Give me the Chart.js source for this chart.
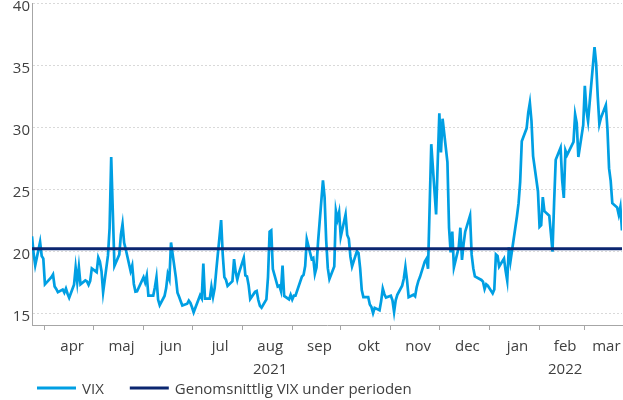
<!DOCTYPE html>
<html>
<head>
<meta charset="utf-8">
<title>VIX</title>
<script src="https://cdn.jsdelivr.net/npm/chart.js@4.4.1/dist/chart.umd.min.js"></script>
<style>
  html, body { margin: 0; padding: 0; background: #ffffff; }
</style>
</head>
<body>
<canvas id="vixChart" width="623" height="400"></canvas>
<script>
// VIX, dagliga stängningsnivåer, 24 mars 2021 - 24 mars 2022
var vixMar21 = [21.20, 19.81, 18.86, 20.74, 19.61, 19.40];
var vixApr21 = [17.33, 17.91, 18.12, 17.16, 16.95, 16.69, 16.91, 16.65, 16.99, 16.57, 16.25,
                17.29, 18.68, 17.50, 18.71, 17.33, 17.64, 17.56, 17.28, 17.61, 18.61];
var vixMay21 = [18.31, 19.48, 19.15, 18.39, 16.69, 19.66, 21.84, 27.59, 23.13, 18.81, 19.72,
                21.34, 22.18, 20.67, 20.15, 18.40, 18.84, 17.36, 16.74, 16.76];
var vixJun21 = [17.90, 17.48, 18.04, 16.42, 16.42, 17.07, 17.89, 16.10, 15.65, 16.39, 17.02,
                18.15, 17.75, 20.70, 17.89, 16.66, 16.32, 15.97, 15.62, 15.76, 16.02, 15.83];
var vixJul21 = [15.48, 15.07, 16.44, 16.20, 19.00, 16.18, 16.17, 17.12, 16.33, 17.01, 18.45,
                22.50, 19.73, 17.91, 17.69, 17.20, 17.58, 19.36, 18.31, 17.70, 18.24];
var vixAug21 = [19.46, 18.04, 17.97, 17.28, 16.15, 16.72, 16.79, 16.06, 15.59, 15.45, 16.12,
                17.91, 21.57, 21.67, 18.56, 17.15, 17.22, 16.79, 18.84, 16.39, 16.11, 16.48];
var vixSep21 = [16.11, 16.41, 16.41, 17.96, 18.09, 18.80, 20.95, 19.37, 19.46, 18.18, 18.69,
                20.81, 25.71, 24.36, 20.87, 18.63, 17.75, 18.76, 23.25, 22.56, 23.14];
var vixOct21 = [21.15, 22.96, 21.30, 21.00, 19.54, 18.77, 20.00, 19.85, 18.64, 16.86, 16.30,
                16.30, 15.70, 15.49, 15.01, 15.43, 15.24, 15.98, 16.98, 16.53, 16.26];
var vixNov21 = [16.41, 16.03, 15.10, 16.04, 16.48, 17.22, 17.78, 18.73, 17.66, 16.29, 16.49,
                16.37, 17.11, 17.59, 17.91, 19.17, 19.38, 18.58, 28.62, 22.96, 27.19];
var vixDec21 = [31.12, 27.95, 30.67, 27.18, 21.89, 19.90, 21.58, 18.69, 20.31, 21.89, 19.29,
                20.57, 21.57, 22.87, 19.70, 18.63, 17.96, 17.68, 17.54, 16.95, 17.33, 17.22];
var vixJan22 = [16.60, 16.91, 19.73, 19.61, 18.76, 19.40, 18.41, 17.62, 20.31, 19.19, 22.79,
                23.85, 25.59, 28.85, 29.90, 31.16, 31.96, 30.49, 27.66, 24.83];
var vixFeb22 = [21.96, 22.09, 24.35, 23.22, 22.86, 21.44, 19.96, 23.91, 27.36, 28.33, 25.70,
                24.29, 28.11, 27.75, 28.81, 31.02, 30.32, 27.59, 30.15];
var vixMar22 = [33.32, 31.35, 30.48, 31.98, 36.45, 35.13, 32.45, 30.23, 30.75, 31.77, 29.83,
                26.67, 25.67, 23.87, 23.53, 22.94, 23.57, 21.67];

// börsstängda helgdagar i USA under perioden
var holidays = ['2021-04-02', '2021-05-31', '2021-07-05', '2021-09-06', '2021-11-25',
                '2021-12-24', '2022-01-17', '2022-02-21'];

var monthNames = ['apr', 'maj', 'jun', 'jul', 'aug', 'sep', 'okt', 'nov', 'dec', 'jan', 'feb', 'mar'];
var yearNames = { aug: '2021', feb: '2022' };
var yTicks = [15, 20, 25, 30, 35, 40];
var seriesNames = ['VIX', 'Genomsnittlig VIX under perioden'];

var vixColor = '#009fe3';
var meanColor = '#0b2670';
var textColor = '#404040';
var axisColor = '#a6a6a6';
var fontFamily = '"Open Sans", "Noto Sans", sans-serif';

// handelsdagar som dagnummer från startdatum
var DAY = 86400000;
var t0 = Date.UTC(2021, 2, 24);
var t1 = Date.UTC(2022, 2, 24);
var tradingDays = [];
for (var t = t0; t <= t1; t += DAY) {
  var d = new Date(t);
  var wd = d.getUTCDay();
  if (wd === 0 || wd === 6) continue;
  if (holidays.indexOf(d.toISOString().slice(0, 10)) >= 0) continue;
  tradingDays.push((t - t0) / DAY);
}

var vix = [].concat(vixMar21, vixApr21, vixMay21, vixJun21, vixJul21, vixAug21, vixSep21,
                    vixOct21, vixNov21, vixDec21, vixJan22, vixFeb22, vixMar22);
if (vix.length !== tradingDays.length) console.warn('antal värden', vix.length, tradingDays.length);

var xMax = (t1 - t0) / DAY;
var vixPoints = vix.map(function (v, i) { return { x: tradingDays[i], y: v }; });
var mean = vix.reduce(function (a, b) { return a + b; }, 0) / vix.length;
var meanPoints = [{ x: 0, y: mean }, { x: xMax, y: mean }];

// månadsgränser (tickstreck) och månadsnamn mitt i varje månad
var monthStarts = [];
for (var m = 0; m < 12; m++) monthStarts.push((Date.UTC(2021, 3 + m, 1) - t0) / DAY);
var xTicks = [];
var xLabel = {};
var isBoundary = {};
monthStarts.forEach(function (s, i) {
  xTicks.push(s);
  isBoundary[s] = true;
  xLabel[s] = '';
  var end = i < 11 ? monthStarts[i + 1] : xMax;
  var mid = (s + end) / 2;
  xTicks.push(mid);
  var name = monthNames[i];
  xLabel[mid] = yearNames[name] ? [name, yearNames[name]] : name;
});
xTicks.sort(function (a, b) { return a - b; });

// egen legend under diagrammet
var lineLegend = {
  id: 'lineLegend',
  afterDraw: function (chart) {
    var ctx = chart.ctx;
    var x = 37, y = 388;
    ctx.save();
    ctx.font = '15px ' + fontFamily;
    ctx.textBaseline = 'middle';
    ctx.textAlign = 'left';
    chart.data.datasets.forEach(function (ds) {
      ctx.strokeStyle = ds.borderColor;
      ctx.lineWidth = 3;
      ctx.beginPath();
      ctx.moveTo(x, y);
      ctx.lineTo(x + 39, y);
      ctx.stroke();
      ctx.fillStyle = textColor;
      ctx.fillText(ds.label, x + 45, y + 2);
      x += 45 + ctx.measureText(ds.label).width + 26;
    });
    ctx.restore();
  }
};

var ctx = document.getElementById('vixChart').getContext('2d');
var vixChart = new Chart(ctx, {
  type: 'line',
  data: {
    datasets: [
      {
        label: seriesNames[0],
        data: vixPoints,
        borderColor: vixColor,
        backgroundColor: vixColor,
        borderWidth: 2.7,
        pointRadius: 0,
        tension: 0,
        order: 2
      },
      {
        label: seriesNames[1],
        data: meanPoints,
        borderColor: meanColor,
        backgroundColor: meanColor,
        borderWidth: 3,
        pointRadius: 0,
        order: 1
      }
    ]
  },
  options: {
    responsive: false,
    animation: false,
    devicePixelRatio: 1,
    layout: { padding: { top: 3, right: 1, bottom: 25, left: 0 } },
    plugins: {
      legend: { display: false },
      tooltip: { enabled: false }
    },
    scales: {
      x: {
        type: 'linear',
        min: 0,
        max: xMax,
        afterBuildTicks: function (scale) {
          scale.ticks = xTicks.map(function (v) { return { value: v }; });
        },
        afterFit: function (scale) {
          scale.height = 50;
          scale.paddingLeft = 0;
          scale.paddingRight = 0;
        },
        ticks: {
          autoSkip: false,
          maxRotation: 0,
          padding: 5,
          labelOffset: 3,
          color: textColor,
          font: { family: fontFamily, size: 15, lineHeight: 1.53 },
          callback: function (value) { return xLabel[value] !== undefined ? xLabel[value] : ''; }
        },
        grid: {
          drawOnChartArea: false,
          drawTicks: true,
          tickLength: 5,
          tickColor: function (c) {
            return c.tick && isBoundary[c.tick.value] ? axisColor : 'rgba(0,0,0,0)';
          }
        },
        border: { color: axisColor, width: 1 }
      },
      y: {
        min: 14.05,
        max: 40,
        afterBuildTicks: function (scale) {
          scale.ticks = yTicks.map(function (v) { return { value: v }; });
        },
        afterFit: function (scale) {
          scale.width = 32;
          scale.paddingTop = 0;
          scale.paddingBottom = 0;
        },
        ticks: {
          padding: 2,
          labelOffset: 4,
          color: textColor,
          font: { family: fontFamily, size: 15 }
        },
        grid: {
          drawTicks: false,
          color: '#d9d9d9',
          lineWidth: 1
        },
        border: { color: axisColor, width: 1, dash: [2, 2] }
      }
    }
  },
  plugins: [lineLegend]
});
</script>
</body>
</html>
